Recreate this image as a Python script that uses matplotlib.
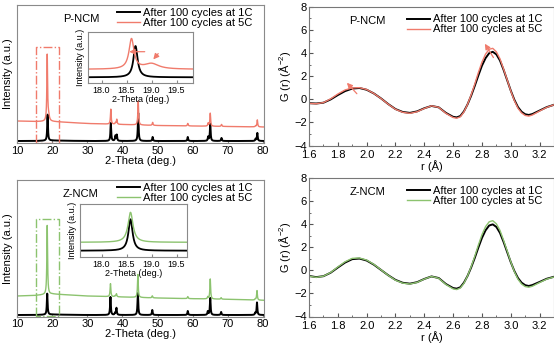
import matplotlib
matplotlib.use('Agg')
import matplotlib.pyplot as plt
import numpy as np

plt.rcParams['font.family'] = ['Liberation Sans', 'DejaVu Sans']

W, H = 554, 343
RED = '#f07b6c'
GREEN = '#8cc36f'
FRAME = '#8a8a8a'

# ---- XRD peaks (2-theta, height in plot units) ----
p_black_pos = [18.7, 36.7, 38.0, 38.4, 44.5, 48.6, 58.6, 64.4, 65.0, 68.2, 77.9, 78.4]
p_black_h = [26, 18, 5, 6, 28, 4, 4, 4, 17, 3, 2, 8]
p_red_pos = [18.6, 19.0, 36.7, 38.0, 38.4, 44.5, 48.6, 58.6, 64.4, 65.0, 68.2, 77.9, 78.4]
p_red_h = [66, 5, 15, 1.5, 5, 24, 3, 2.5, 3, 13, 2, 1, 7]
p_red_w = [0.25, 0.5, 0.25, 0.25, 0.25, 0.25, 0.25, 0.25, 0.25, 0.25, 0.25, 0.25, 0.25]

z_black_pos = [18.6, 36.6, 37.9, 38.3, 44.4, 48.5, 58.6, 64.3, 65.0, 68.1, 77.8, 78.3]
z_black_h = [21, 18, 2, 7, 22, 5, 4, 3.5, 17, 3, 2, 12.5]
z_green_pos = [18.6, 36.6, 37.9, 38.3, 44.4, 48.5, 58.6, 64.3, 65.0, 68.1, 77.8, 78.3]
z_green_h = [69, 13, 1, 3, 23, 2, 2, 2, 20, 1.5, 1, 9.5]

bg_x = [10, 15, 20, 25, 30, 40, 50, 60, 70, 80]
p_black_bg = [2, 2, 2.5, 2.2, 2, 2, 2, 2, 2, 2]
p_red_bg = [22, 21.5, 21.5, 20.5, 19.5, 18.5, 17.5, 17, 16.5, 16]
z_black_bg = [1.5, 1.5, 2, 1.7, 1.5, 1.5, 1.5, 1.5, 1.5, 1.5]
z_green_bg = [20.5, 21, 22.5, 21.5, 20.5, 19.5, 18.5, 17.8, 17.2, 16.2]

# ---- inset (003) peaks: centre, height, fwhm, baseline ----
pi_black = dict(pos=[18.68], h=[31.3], w=[0.10], base=5.7)
pi_red = dict(pos=[18.60, 19.0], h=[30, 5.5], w=[0.12, 0.35], base=13.7)
zi_black = dict(pos=[18.58], h=[31.4], w=[0.10], base=6.3)
zi_green = dict(pos=[18.58], h=[30], w=[0.12], base=14.7)

# ---- PDF G(r) ----
r = [1.60, 1.65, 1.70, 1.75, 1.80, 1.85, 1.90, 1.95, 2.00, 2.05, 2.10, 2.15, 2.20,
     2.25, 2.30, 2.35, 2.40, 2.45, 2.50, 2.55, 2.60, 2.625, 2.65, 2.675, 2.70, 2.725,
     2.75, 2.775, 2.80, 2.825, 2.85, 2.875, 2.90, 2.925, 2.95, 2.975, 3.00, 3.025,
     3.05, 3.075, 3.10, 3.125, 3.15, 3.20, 3.25, 3.30]
g_p_black = [-0.34, -0.37, -0.30, -0.02, 0.36, 0.70, 0.92, 0.97, 0.82, 0.50, 0.07, -0.42,
             -0.85, -1.10, -1.18, -1.05, -0.78, -0.58, -0.70, -1.18, -1.52, -1.57, -1.45,
             -1.05, -0.45, 0.30, 1.15, 2.05, 2.90, 3.55, 3.98, 4.10, 3.88, 3.35, 2.55,
             1.65, 0.75, -0.05, -0.68, -1.08, -1.30, -1.36, -1.28, -0.98, -0.68, -0.48]
g_p_red = [-0.36, -0.39, -0.29, 0.03, 0.45, 0.80, 0.98, 1.00, 0.84, 0.50, 0.06, -0.43,
           -0.87, -1.13, -1.22, -1.08, -0.80, -0.57, -0.70, -1.22, -1.58, -1.64, -1.52,
           -1.10, -0.45, 0.38, 1.30, 2.30, 3.20, 3.90, 4.32, 4.40, 4.10, 3.50, 2.62,
           1.68, 0.72, -0.12, -0.78, -1.18, -1.40, -1.46, -1.36, -1.02, -0.70, -0.48]
g_z_black = [-0.48, -0.58, -0.50, -0.20, 0.25, 0.68, 0.98, 1.03, 0.86, 0.50, 0.04, -0.42,
             -0.82, -1.07, -1.15, -1.02, -0.74, -0.52, -0.66, -1.18, -1.53, -1.58, -1.46,
             -1.06, -0.48, 0.25, 1.08, 1.98, 2.82, 3.48, 3.90, 4.00, 3.78, 3.26, 2.48,
             1.60, 0.72, -0.05, -0.66, -1.06, -1.28, -1.35, -1.27, -1.00, -0.72, -0.55]
g_z_green = [-0.50, -0.60, -0.50, -0.18, 0.30, 0.75, 1.05, 1.08, 0.90, 0.53, 0.05, -0.43,
             -0.85, -1.10, -1.18, -1.04, -0.75, -0.52, -0.68, -1.22, -1.60, -1.66, -1.53,
             -1.12, -0.48, 0.32, 1.22, 2.20, 3.10, 3.80, 4.22, 4.32, 4.05, 3.48, 2.62,
             1.70, 0.75, -0.10, -0.76, -1.18, -1.40, -1.46, -1.37, -1.05, -0.75, -0.57]

labels = ['After 100 cycles at 1C', 'After 100 cycles at 5C']
FS = 8


def lorentz(x, pos, h, w):
    y = np.zeros_like(x)
    for p, a, g in zip(pos, h, w):
        y += a / (1 + ((x - p) / (g / 2)) ** 2)
    return y


def px_axes(fig, l, t, r_, b):
    return fig.add_axes([l / W, 1 - b / H, (r_ - l) / W, (b - t) / H])


def frame(ax, color=FRAME):
    for s in ax.spines.values():
        s.set_color(color)
        s.set_linewidth(0.8)


def xrd_panel(fig, box, inset_box, inset_xlim, data, inset_data, color, name, rect_top):
    ax = px_axes(fig, *box)
    x = np.linspace(10, 80.3, 7031)
    (bpos, bh, bbg), (cpos, ch, cw, cbg) = data
    yb = np.interp(x, bg_x, bbg) + lorentz(x, bpos, bh, [0.25] * len(bpos))
    yc = np.interp(x, bg_x, cbg) + lorentz(x, cpos, ch, cw)
    ax.plot(x, yb, color='black', lw=1.4, label=labels[0])
    ax.plot(x, yc, color=color, lw=1.0, label=labels[1])
    ax.set_xlim(10, 80.3)
    ax.set_ylim(0, box[3] - box[1])
    ax.set_yticks([])
    ax.set_xticks(range(10, 81, 10))
    ax.tick_params(axis='x', direction='in', length=2.5, labelsize=FS, pad=2, color=FRAME)
    ax.set_xlabel('2-Theta (deg.)', fontsize=FS, labelpad=0)
    ax.set_ylabel('Intensity (a.u.)', fontsize=FS, labelpad=3)
    frame(ax)
    ax.plot([15.4, 15.4, 22.0, 22.0, 15.4], [0.5, rect_top, rect_top, 0.5, 0.5],
            color=color, lw=1.0, ls='-.')
    ax.text(0.185, 0.9, name, transform=ax.transAxes, fontsize=FS, ha='left', va='center')
    ax.legend(loc='upper left', bbox_to_anchor=(0.375, 1.035), frameon=False, fontsize=FS,
              handlelength=2.0, handletextpad=0.3, labelspacing=0.0, borderpad=0.2)

    ia = px_axes(fig, *inset_box)
    xi = np.linspace(inset_xlim[0], inset_xlim[1], 800)
    b, c = inset_data
    ia.plot(xi, b['base'] + lorentz(xi, b['pos'], b['h'], b['w']), color='black', lw=1.3)
    ia.plot(xi, c['base'] + lorentz(xi, c['pos'], c['h'], c['w']), color=color, lw=1.0)
    ia.set_xlim(*inset_xlim)
    ia.set_ylim(0, inset_box[3] - inset_box[1])
    ia.set_yticks([])
    ia.set_xticks([18.0, 18.5, 19.0, 19.5])
    ia.tick_params(axis='x', direction='in', length=2, labelsize=6.5, pad=2, color=FRAME)
    ia.set_xlabel('2-Theta (deg.)', fontsize=6.5, labelpad=0)
    ia.set_ylabel('Intensity (a.u.)', fontsize=6.5, labelpad=2)
    frame(ia)
    return ax, ia


def pdf_panel(fig, box, gb, gc, color, name):
    ax = px_axes(fig, *box)
    ax.plot(r, gb, color='black', lw=1.4, label=labels[0])
    ax.plot(r, gc, color=color, lw=1.0, label=labels[1])
    ax.set_xlim(1.6, 3.3)
    ax.set_ylim(-4, 8)
    ax.set_xticks(np.arange(1.6, 3.21, 0.2))
    ax.set_xticks(np.arange(1.6, 3.31, 0.1), minor=True)
    ax.set_yticks(range(-4, 9, 2))
    ax.set_yticks(range(-3, 8, 2), minor=True)
    ax.tick_params(direction='in', length=3, labelsize=FS, pad=1.5, color='#555555')
    ax.tick_params(axis='x', pad=3)
    ax.tick_params(which='minor', direction='in', length=1.5, color='#555555')
    ax.set_xlabel('r (Å)', fontsize=FS, labelpad=0.5)
    ax.set_ylabel('G (r) (Å$^{\\mathregular{-2}}$)', fontsize=FS, labelpad=1)
    frame(ax, '#777777')
    ax.text(0.165, 0.9, name, transform=ax.transAxes, fontsize=FS, ha='left', va='center')
    ax.legend(loc='upper left', bbox_to_anchor=(0.37, 1.0), frameon=False, fontsize=FS,
              handlelength=2.0, handletextpad=0.3, labelspacing=0.0, borderpad=0.2)
    return ax


fig = plt.figure(figsize=(W / 100, H / 100), dpi=100)

ax1, in1 = xrd_panel(fig, (17, 5, 264, 143), (88, 32, 193, 83), (17.73, 19.83),
                     ((p_black_pos, p_black_h, p_black_bg),
                      (p_red_pos, p_red_h, p_red_w, p_red_bg)),
                     (pi_black, pi_red), RED, 'P-NCM', 96)
ax3, in3 = xrd_panel(fig, (17, 180, 264, 316.5), (80, 204, 187, 257), (17.57, 19.71),
                     ((z_black_pos, z_black_h, z_black_bg),
                      (z_green_pos, z_green_h, [0.25] * len(z_green_pos), z_green_bg)),
                     (zi_black, zi_green), GREEN, 'Z-NCM', 98)

ax2 = pdf_panel(fig, (309, 6.7, 554, 145.5), g_p_black, g_p_red, RED, 'P-NCM')
ax4 = pdf_panel(fig, (309, 178.3, 554, 316.5), g_z_black, g_z_green, GREEN, 'Z-NCM')

arrow = dict(arrowstyle='-|>', color=RED, lw=0.9, mutation_scale=8)
in1.annotate('', xy=(18.5, 31.3), xytext=(18.92, 31.3), arrowprops=arrow)
in1.annotate('', xy=(19.0, 21.5), xytext=(19.17, 31.5), arrowprops=arrow)
ax2.annotate('', xy=(1.85, 1.6), xytext=(1.945, 0.3), arrowprops=arrow)
ax2.annotate('', xy=(2.81, 5.0), xytext=(2.89, 3.4), arrowprops=arrow)

fig.savefig('out.png', dpi=100)
